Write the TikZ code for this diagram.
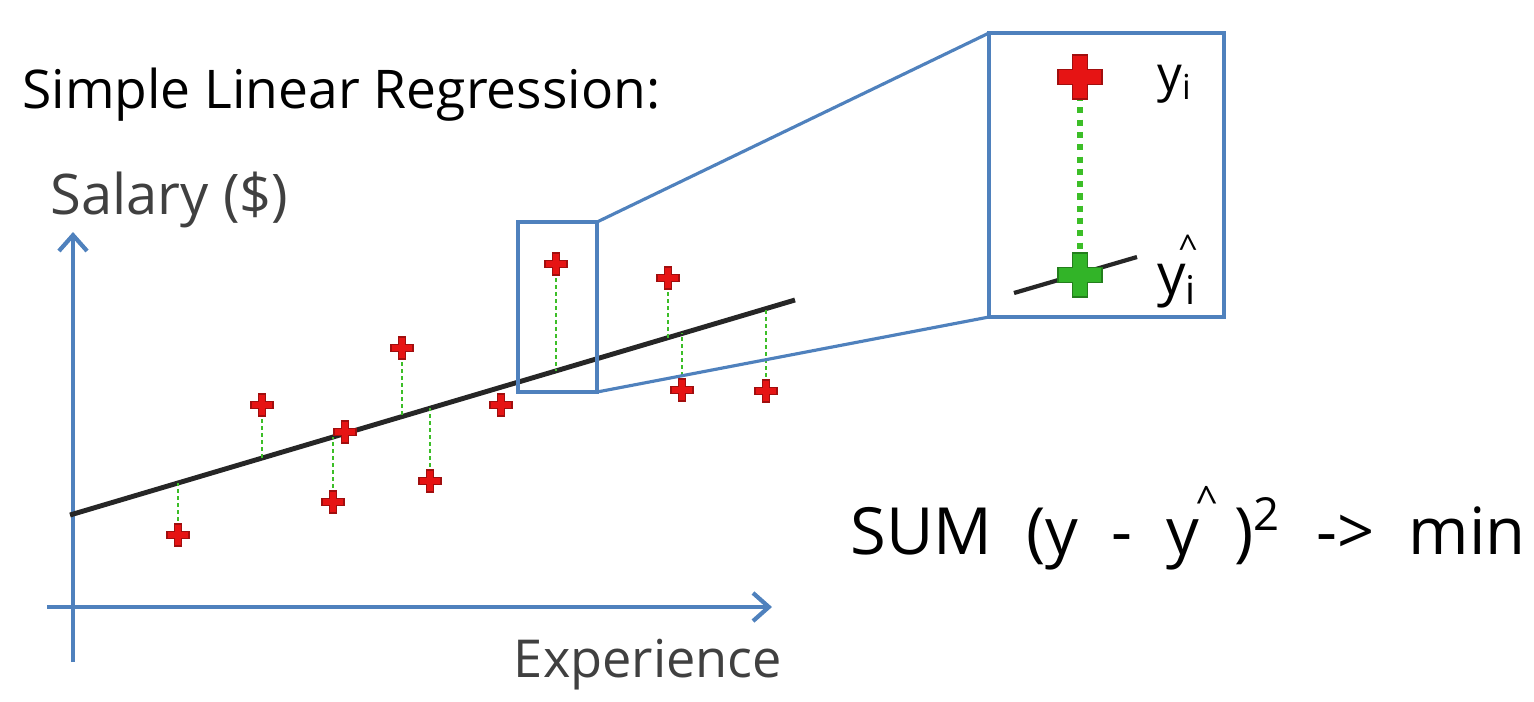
\documentclass[tikz,border=0pt]{standalone}
\usepackage{fontspec}
\setmainfont{Open Sans}
\usetikzlibrary{arrows.meta}
\definecolor{ax}{RGB}{79,129,189}
\definecolor{pr}{RGB}{230,20,20}
\definecolor{pg}{RGB}{50,180,40}
\definecolor{dg}{RGB}{60,190,40}
\newcommand{\crossmark}[4]{% x,y,half-size,fill
  \filldraw[fill=#4,draw=#4!70!black,line width=0.6pt]
   (#1-#3/3,#2-#3) -- (#1+#3/3,#2-#3) -- (#1+#3/3,#2-#3/3) -- (#1+#3,#2-#3/3) -- (#1+#3,#2+#3/3) -- (#1+#3/3,#2+#3/3)
   -- (#1+#3/3,#2+#3) -- (#1-#3/3,#2+#3) -- (#1-#3/3,#2+#3/3) -- (#1-#3,#2+#3/3) -- (#1-#3,#2-#3/3) -- (#1-#3/3,#2-#3/3) -- cycle;}
\newcommand{\smallhat}{\raisebox{0.62em}{\scalebox{0.6}{\^{}}}}
\tikzset{axisline/.style={ax,line width=2.4pt,-{Straight Barb[length=9pt,width=16pt,line width=2.4pt]}},
 resid/.style={dg,line width=1.5pt,dash pattern=on 2pt off 2pt},
 boxline/.style={ax,line width=1.8pt},
 fitline/.style={black!85,line width=2.8pt}}
\begin{document}
\begin{tikzpicture}[x=0.02cm,y=-0.02cm]
\useasboundingbox (0,0) rectangle (1534,701);
% text
\node[anchor=west,inner sep=0] (title) at (22,95) {\resizebox{638\dimexpr0.02cm}{!}{Simple Linear Regression:}};
\node[anchor=west,inner sep=0,text=black!75] (ylab) at (50,200) {\resizebox{238\dimexpr0.02cm}{!}{Salary (\$)}};
\node[inner sep=0,text=black!75] (xlab) at (648,665) {\resizebox{268\dimexpr0.02cm}{!}{Experience}};
\node[anchor=west,inner sep=0] (sum) at (850,528) {\resizebox{675\dimexpr0.02cm}{!}{SUM\ \ (y\ \ -\ \ y\kern-0.05em\smallhat\ )\textsuperscript{2}\ \ ->\ \ min}};
% axes
\coordinate (yb) at (73,662); \coordinate (yt) at (73,232);
\coordinate (xl) at (47,607); \coordinate (xr) at (772,607);
\draw[axisline] (yb) -- (yt);
\draw[axisline] (xl) -- (xr);
% fit line
\coordinate (l0) at (70,515); \coordinate (l1) at (795,300);
\draw[fitline] (l0) -- (l1);
% residuals
\foreach \x/\y in {178/535,262/405,333/502,402/348,430/481,556/264,668/278,682/390,766/391}{
  \draw[resid] (\x,\y) -- (\x,{515-0.2966*(\x-70)});
}
\foreach \x/\y in {178/535,262/405,333/502,345/432,402/348,430/481,501/405,556/264,668/278,682/390,766/391}{
  \crossmark{\x}{\y}{11}{pr}
}
% zoom boxes
\coordinate (s1) at (518,222); \coordinate (s2) at (597,392);
\coordinate (b1) at (989,33); \coordinate (b2) at (1224,317);
\draw[boxline] (s1) rectangle (s2);
\draw[boxline] (b1) rectangle (b2);
\draw[boxline] (597,222) -- (989,33);
\draw[boxline] (597,392) -- (989,317);
% inset
\coordinate (il0) at (1014,293); \coordinate (il1) at (1137,257);
\draw[black!85,line width=2.4pt] (il0) -- (il1);
\draw[dg,line width=3.5pt,dash pattern=on 3.5pt off 3.5pt] (1080,95) -- (1080,255);
\crossmark{1080}{77}{22}{pr}
\crossmark{1080}{275}{22}{pg}
\node[anchor=west,inner sep=0] (yi) at (1157,84) {\resizebox{36\dimexpr0.02cm}{!}{y\textsubscript{i}}};
\node[anchor=west,inner sep=0] (yh) at (1157,272) {\resizebox{40\dimexpr0.02cm}{!}{y\textsubscript{i}\kern-0.35em\smallhat}};
\end{tikzpicture}
\end{document}
